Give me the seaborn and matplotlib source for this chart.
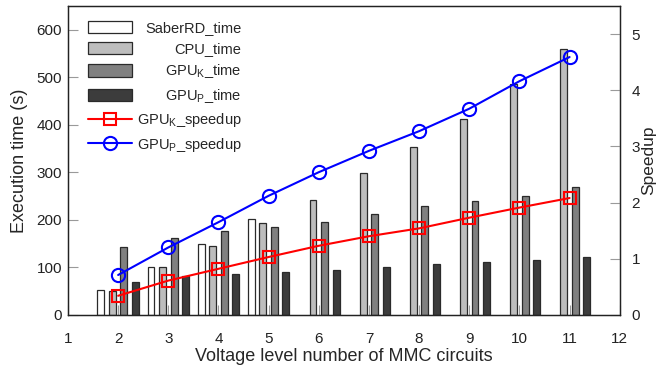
import numpy as np
import pandas as pd
import matplotlib
matplotlib.use("Agg")
import matplotlib.pyplot as plt
import seaborn as sns

# data
levels = [2, 3, 4, 5, 6, 7, 8, 9, 10, 11]
saberrd_levels = [2, 3, 4, 5]
saberrd_time = [53, 100, 149, 202]
cpu_time = [51, 100, 144, 193, 241, 298, 353, 413, 486, 560]
gpuk_time = [143, 162, 176, 185, 196, 213, 228, 239, 251, 270]
gpup_time = [70, 82, 87, 90, 94, 101, 108, 112, 116, 121]
gpuk_speedup = [0.34, 0.61, 0.82, 1.03, 1.23, 1.40, 1.54, 1.73, 1.91, 2.08]
gpup_speedup = [0.71, 1.20, 1.65, 2.12, 2.54, 2.92, 3.27, 3.67, 4.16, 4.59]

bar_labels = ["SaberRD_time", "CPU_time", "GPU$_\\mathregular{K}$_time", "GPU$_\\mathregular{P}$_time"]
bar_colors = ["#ffffff", "#bdbdbd", "#808080", "#3c3c3c"]

sns.set_style("ticks")
plt.rcParams["font.family"] = ["Liberation Sans", "DejaVu Sans"]
plt.rcParams["font.size"] = 11

times = pd.concat(
    [
        pd.DataFrame({"level": saberrd_levels, "kind": bar_labels[0], "time": saberrd_time}),
        pd.DataFrame({"level": levels, "kind": bar_labels[1], "time": cpu_time}),
        pd.DataFrame({"level": levels, "kind": bar_labels[2], "time": gpuk_time}),
        pd.DataFrame({"level": levels, "kind": bar_labels[3], "time": gpup_time}),
    ],
    ignore_index=True,
)

fig = plt.figure(figsize=(6.6, 3.7), dpi=100)
ax = fig.add_axes([0.103, 0.149, 0.836, 0.835])

sns.barplot(
    ax=ax,
    data=times,
    x="level",
    y="time",
    hue="kind",
    hue_order=bar_labels,
    palette=bar_colors,
    native_scale=True,
    width=0.92,
    gap=0.4,
    saturation=1,
    edgecolor="#2a2a2a",
    linewidth=0.9,
    errorbar=None,
)
bar_leg = ax.get_legend()
bar_handles = list(bar_leg.legend_handles)
for h, c in zip(bar_handles, bar_colors):
    h.set_facecolor(c)
    h.set_edgecolor("#2a2a2a")
    h.set_linewidth(0.9)
bar_leg.remove()

ax2 = ax.twinx()
sns.lineplot(
    ax=ax2, x=levels, y=gpuk_speedup, color="red", marker="s", markersize=9,
    markerfacecolor="none", markeredgecolor="red", markeredgewidth=1.5,
    linewidth=1.5, label="GPU$_\\mathregular{K}$_speedup",
)
sns.lineplot(
    ax=ax2, x=levels, y=gpup_speedup, color="blue", marker="o", markersize=9.5,
    markerfacecolor="none", markeredgecolor="blue", markeredgewidth=1.5,
    linewidth=1.5, label="GPU$_\\mathregular{P}$_speedup",
)
line_handles, line_labels = ax2.get_legend_handles_labels()

ax.set_xlim(1, 12)
ax.set_xticks(range(1, 13))
ax.set_ylim(0, 650)
ax.set_yticks(range(0, 601, 100))
ax2.set_ylim(0, 5.5)
ax2.set_yticks(range(0, 6))
ax.set_xlabel("Voltage level number of MMC circuits", fontsize=13, labelpad=1.5)
ax.set_ylabel("Execution time (s)", fontsize=13, labelpad=6)
ax2.set_ylabel("Speedup", fontsize=12.5, labelpad=1)

for a in (ax, ax2):
    a.tick_params(direction="in", length=7.5, color="#9a9a9a", labelcolor="#222222")
    for s in a.spines.values():
        s.set_color("#222222")
        s.set_linewidth(0.9)
ax.tick_params(axis="x", pad=12, labelsize=11)
ax.tick_params(axis="y", pad=4.3, labelsize=11)
ax2.tick_params(axis="y", pad=8.5, labelsize=11)

leg = ax2.legend(
    bar_handles + line_handles,
    bar_labels + line_labels,
    loc="upper left",
    bbox_to_anchor=(0.015, 0.99),
    frameon=False,
    fontsize=10.5,
    handlelength=3.0,
    handleheight=0.95,
    labelspacing=0.45,
    handletextpad=0.35,
    borderpad=0.3,
)

# right-align the legend texts like the reference
fig.canvas.draw()
renderer = fig.canvas.get_renderer()
texts = leg.get_texts()
widths = [t.get_window_extent(renderer).width for t in texts]
wmax = max(widths)
for t, w in zip(texts, widths):
    t.set_x(wmax - w)

fig.savefig("out.png", dpi=100)
